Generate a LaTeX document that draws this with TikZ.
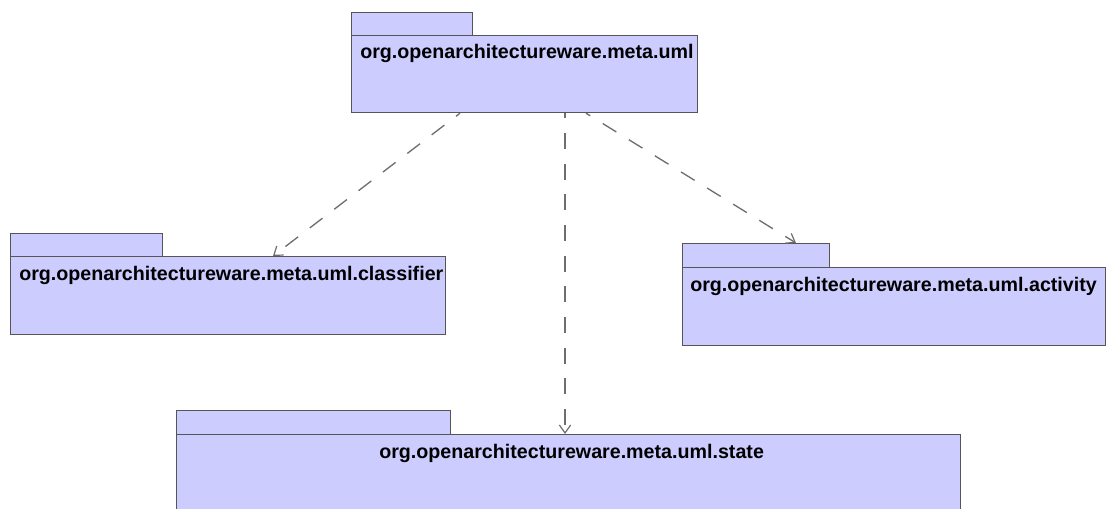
\documentclass[tikz,border=0pt]{standalone}
\usepackage{fontspec}
\setmainfont{Liberation Sans}
\usetikzlibrary{arrows.meta,calc}
\definecolor{pkgfill}{RGB}{204,204,255}
\definecolor{pkgline}{RGB}{85,85,85}
\definecolor{deplin}{RGB}{110,110,110}
\begin{document}
\begin{tikzpicture}[x=0.75pt,y=-0.75pt,
  pkgpart/.style={draw=pkgline,fill=pkgfill,line width=0.9pt,rectangle,
    inner sep=0pt,anchor=north west},
  pkgname/.style={inner sep=0pt,font=\fontsize{14.75}{17}\selectfont\bfseries},
  dependency/.style={draw=deplin,line width=1pt,
    dash pattern=on 12pt off 11pt,dash phase=8.25pt,
    -{Straight Barb[length=6pt,width=8.5pt,line width=0.9pt]}}]
\useasboundingbox (0,0) rectangle (1106,508);

% org.openarchitectureware.meta.uml
\node[pkgpart,minimum width=90.75pt,minimum height=17.25pt] (toptab) at (351,12) {};
\node[pkgpart,minimum width=259.5pt,minimum height=57.75pt] (top) at (351,35) {};
\node[pkgname,anchor=base west] (topname) at ($(top.north west)+(9,23)$)
  {org.openarchitectureware.meta.uml};

% org.openarchitectureware.meta.uml.classifier
\node[pkgpart,minimum width=114pt,minimum height=17.25pt] (clstab) at (10,233) {};
\node[pkgpart,minimum width=326.25pt,minimum height=58.5pt] (cls) at (10,256) {};
\node[pkgname,anchor=base west] (clsname) at ($(cls.north west)+(9,24)$)
  {org.openarchitectureware.meta.uml.classifier};

% org.openarchitectureware.meta.uml.activity
\node[pkgpart,minimum width=110.25pt,minimum height=18pt] (acttab) at (682,243) {};
\node[pkgpart,minimum width=317.25pt,minimum height=58.5pt] (act) at (682,267) {};
\node[pkgname,anchor=base west] (actname) at ($(act.north west)+(8,24)$)
  {org.openarchitectureware.meta.uml.activity};

% org.openarchitectureware.meta.uml.state
\node[pkgpart,minimum width=205.5pt,minimum height=18pt] (sttab) at (176,410) {};
\node[pkgpart,minimum width=588pt,minimum height=58.5pt] (st) at (176,434) {};
\node[pkgname,anchor=base] (stname) at ($(st.north)+(3,24)$)
  {org.openarchitectureware.meta.uml.state};

% dependencies
\draw[dependency] ($(top.south west)+(109,0)$) -- ($(cls.north west)+(263,0)$);
\draw[dependency] ($(top.south west)+(214,0)$) -- ($(st.north west)+(389,0)$);
\draw[dependency] ($(top.south west)+(235,0)$) -- ($(acttab.north west)+(114,0)$);
\end{tikzpicture}
\end{document}
